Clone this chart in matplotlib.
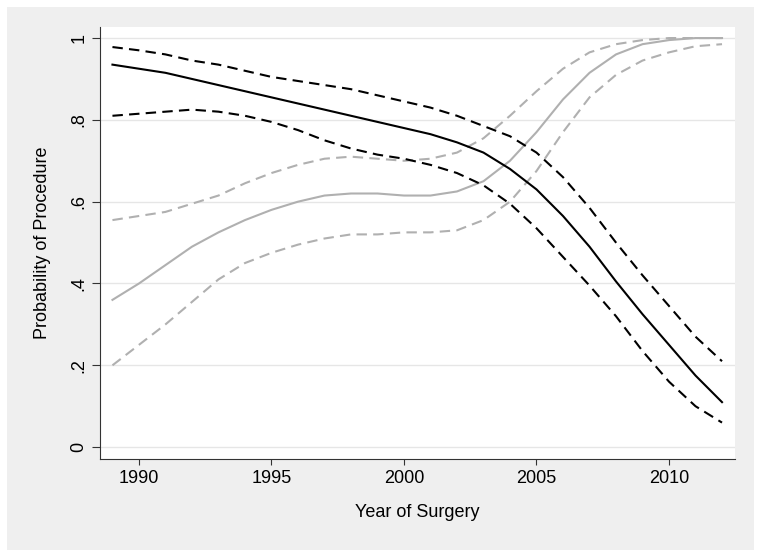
import matplotlib.pyplot as plt
from matplotlib.patches import Rectangle

plt.rcParams["font.family"] = ["Liberation Sans", "DejaVu Sans"]

years = list(range(1989, 2013))

# black curves: estimate and band
black_mid = [0.935, 0.925, 0.915, 0.90, 0.885, 0.87, 0.855, 0.84, 0.825, 0.81, 0.795, 0.78,
             0.765, 0.745, 0.72, 0.68, 0.63, 0.565, 0.49, 0.405, 0.325, 0.25, 0.175, 0.11]
black_hi = [0.978, 0.97, 0.96, 0.945, 0.935, 0.92, 0.905, 0.895, 0.885, 0.875, 0.86, 0.845,
            0.83, 0.81, 0.785, 0.76, 0.72, 0.66, 0.585, 0.50, 0.42, 0.345, 0.27, 0.21]
black_lo = [0.81, 0.815, 0.82, 0.825, 0.82, 0.81, 0.795, 0.775, 0.75, 0.73, 0.715, 0.705,
            0.69, 0.67, 0.64, 0.595, 0.535, 0.465, 0.395, 0.32, 0.235, 0.16, 0.10, 0.06]

# gray curves: estimate and band
gray_mid = [0.36, 0.40, 0.445, 0.49, 0.525, 0.555, 0.58, 0.60, 0.615, 0.62, 0.62, 0.615,
            0.615, 0.625, 0.65, 0.70, 0.77, 0.85, 0.915, 0.96, 0.985, 0.995, 1.0, 1.0]
gray_hi = [0.555, 0.565, 0.575, 0.595, 0.615, 0.645, 0.67, 0.69, 0.705, 0.71, 0.705, 0.70,
           0.705, 0.72, 0.755, 0.81, 0.87, 0.925, 0.965, 0.985, 0.995, 1.0, 1.0, 1.0]
gray_lo = [0.20, 0.25, 0.30, 0.355, 0.41, 0.45, 0.475, 0.495, 0.51, 0.52, 0.52, 0.525,
           0.525, 0.53, 0.555, 0.60, 0.675, 0.77, 0.855, 0.91, 0.945, 0.965, 0.98, 0.985]

yticks = [0, 0.2, 0.4, 0.6, 0.8, 1]
ytick_labels = ["0", ".2", ".4", ".6", ".8", "1"]
xticks = [1990, 1995, 2000, 2005, 2010]

W, H = 762, 559
fig = plt.figure(figsize=(W / 100, H / 100), dpi=100, facecolor="white")
fig.patches.append(Rectangle((7 / W, 9 / H), 747 / W, 543 / H, transform=fig.transFigure,
                             facecolor="#efefef", edgecolor="none", zorder=-1))
ax = fig.add_axes([100 / W, (H - 459) / H, 635 / W, 432 / H])
ax.set_facecolor("white")

dash = (0, (5, 3))
g = "#b0b0b0"
ax.plot(years, gray_mid, color=g, lw=1.5)
ax.plot(years, gray_hi, color=g, lw=1.5, linestyle=dash)
ax.plot(years, gray_lo, color=g, lw=1.5, linestyle=dash)
ax.plot(years, black_mid, color="black", lw=1.5)
ax.plot(years, black_hi, color="black", lw=1.5, linestyle=dash)
ax.plot(years, black_lo, color="black", lw=1.5, linestyle=dash)

ax.set_xlim(1988.53, 2012.49)
ax.set_ylim(-0.029, 1.027)
ax.set_yticks(yticks)
ax.set_yticklabels(ytick_labels, rotation=90, va="center")
ax.set_xticks(xticks)
ax.yaxis.grid(True, color="#e6e6e6", lw=1)
ax.set_axisbelow(True)
for s in ["top", "right"]:
    ax.spines[s].set_visible(False)
for s in ["left", "bottom"]:
    ax.spines[s].set_color("#333333")
ax.tick_params(axis="x", labelsize=13, length=4.5, color="#333333", pad=3.5)
ax.tick_params(axis="y", labelsize=13, length=6, color="#333333", pad=3)
ax.set_xlabel("Year of Surgery", fontsize=13, labelpad=12)
ax.set_ylabel("Probability of Procedure", fontsize=13, labelpad=14)

fig.savefig("out.png", dpi=100)
